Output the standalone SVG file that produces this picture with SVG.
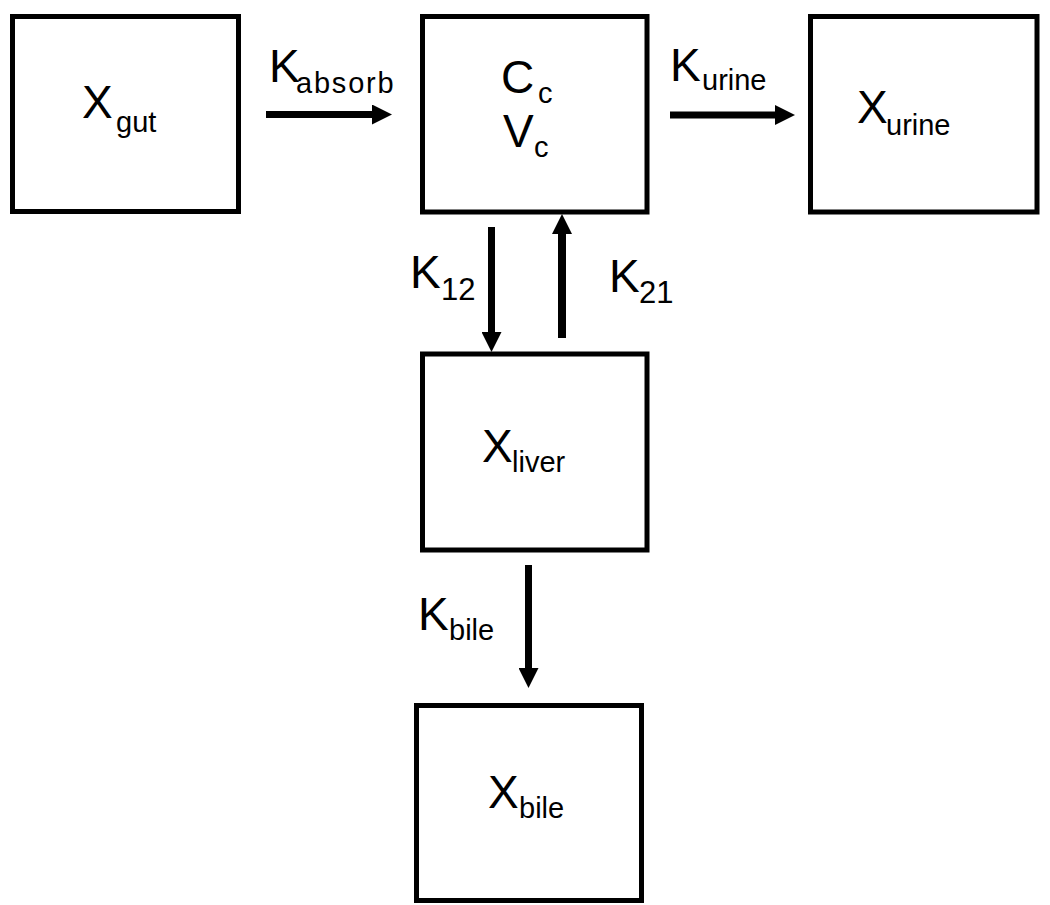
<svg xmlns="http://www.w3.org/2000/svg" width="1050" height="905" viewBox="0 0 1050 905">
<style>
.box{fill:#fff;stroke:#000;stroke-width:5}
.t{font-family:"Liberation Sans",Arial,sans-serif;font-size:46px;fill:#000}
.s{font-size:29px}
.d{font-size:31px}
.c{stroke:#000;stroke-width:7;fill:none;marker-end:url(#ah)}
</style>
<defs>
<marker id="ah" markerUnits="userSpaceOnUse" viewBox="0 0 20 20" refX="1" refY="10" markerWidth="20" markerHeight="20" orient="auto">
<path d="M0,0 L20,10 L0,20 z" fill="#000"/>
</marker>
</defs>
<rect width="1050" height="905" fill="#fff"/>
<g id="connectors">
<line class="c" x1="266" y1="114.5" x2="373" y2="114.5"/>
<line class="c" x1="670" y1="115" x2="776" y2="115"/>
<line class="c" x1="491.5" y1="227" x2="491.5" y2="333"/>
<line class="c" x1="562" y1="338" x2="562" y2="233" style="stroke-width:8"/>
<line class="c" x1="528.5" y1="565" x2="528.5" y2="669"/>
</g>
<g id="gut">
<rect class="box" x="12.5" y="16.5" width="226" height="195"/>
<text class="t"><tspan x="82" y="118">X</tspan><tspan class="s" x="116" y="132">gut</tspan></text>
</g>
<g id="central">
<rect class="box" x="422.5" y="16.5" width="224.5" height="195.5"/>
<text class="t"><tspan x="501" y="93">C</tspan><tspan class="s" x="538" y="103">c</tspan></text>
<text class="t"><tspan x="503" y="147">V</tspan><tspan class="s" x="534" y="157">c</tspan></text>
</g>
<g id="urine">
<rect class="box" x="810.5" y="16.5" width="226.5" height="195.5"/>
<text class="t"><tspan x="857" y="123">X</tspan><tspan class="s" x="886" y="135">urine</tspan></text>
</g>
<g id="liver">
<rect class="box" x="422.5" y="354" width="224.5" height="196"/>
<text class="t"><tspan x="482" y="462">X</tspan><tspan class="s" x="512" y="472">liver</tspan></text>
</g>
<g id="bile">
<rect class="box" x="416.5" y="705.5" width="225" height="195"/>
<text class="t"><tspan x="488" y="808">X</tspan><tspan class="s" x="519" y="818">bile</tspan></text>
</g>
<g id="labels">
<text class="t"><tspan x="269" y="82">K</tspan><tspan class="s" x="296" y="93" letter-spacing="1.8">absorb</tspan></text>
<text class="t"><tspan x="670" y="81">K</tspan><tspan class="s" x="702" y="90">urine</tspan></text>
<text class="t"><tspan x="410" y="288">K</tspan><tspan class="d" x="441" y="300">12</tspan></text>
<text class="t"><tspan x="609" y="292">K</tspan><tspan class="d" x="639" y="303">21</tspan></text>
<text class="t"><tspan x="418" y="630">K</tspan><tspan class="s" x="449" y="640">bile</tspan></text>
</g>
</svg>
